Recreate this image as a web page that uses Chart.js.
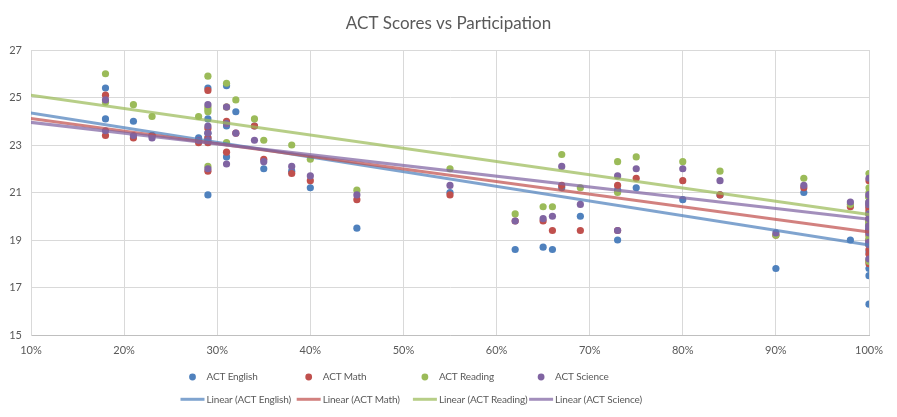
<!DOCTYPE html>
<html lang="en">
<head>
  <meta charset="UTF-8" />
  <title>ACT Scores vs Participation</title>
  <script src="https://cdn.jsdelivr.net/npm/chart.js"></script>
  <style>
    body {
      margin: 0;
      background: #ffffff;
    }
    #wrap {
      width: 897px;
      height: 417px;
    }
  </style>
</head>
<body>
  <div id="wrap"><canvas id="actChart" width="897" height="417"></canvas></div>

  <script>
    // 2017 ACT state averages (Maine at 8% sits left of the axis and is clipped)
    const states = [
      'Alabama', 'Alaska', 'Arizona', 'Arkansas', 'California', 'Colorado', 'Connecticut',
      'Delaware', 'District of Columbia', 'Florida', 'Georgia', 'Hawaii', 'Idaho', 'Illinois',
      'Indiana', 'Iowa', 'Kansas', 'Kentucky', 'Louisiana', 'Maine', 'Maryland', 'Massachusetts',
      'Michigan', 'Minnesota', 'Mississippi', 'Missouri', 'Montana', 'Nebraska', 'Nevada',
      'New Hampshire', 'New Jersey', 'New Mexico', 'New York', 'North Carolina', 'North Dakota',
      'Ohio', 'Oklahoma', 'Oregon', 'Pennsylvania', 'Rhode Island', 'South Carolina',
      'South Dakota', 'Tennessee', 'Texas', 'Utah', 'Vermont', 'Virginia', 'Washington',
      'West Virginia', 'Wisconsin', 'Wyoming'
    ];
    const participation = [
      1.00, 0.65, 0.62, 1.00, 0.31, 1.00, 0.31, 0.18, 0.32, 0.73, 0.55, 0.90, 0.38, 0.93,
      0.35, 0.67, 0.73, 1.00, 1.00, 0.08, 0.28, 0.29, 0.29, 1.00, 1.00, 1.00, 1.00, 0.84,
      1.00, 0.18, 0.34, 0.66, 0.31, 1.00, 0.98, 0.75, 1.00, 0.40, 0.23, 0.21, 1.00, 0.80,
      1.00, 0.45, 1.00, 0.29, 0.29, 0.29, 0.69, 1.00, 1.00
    ];
    const actEnglish = [
      18.9, 18.7, 18.6, 18.9, 22.5, 20.1, 25.5, 24.1, 24.4, 19.0, 21.0, 17.8, 21.9, 21.0,
      22.0, 21.2, 21.1, 19.6, 19.4, 24.2, 23.3, 25.4, 24.1, 20.4, 18.2, 19.8, 19.0, 20.9,
      16.3, 25.4, 23.8, 18.6, 23.8, 17.8, 19.0, 21.2, 18.5, 21.2, 23.4, 24.0, 17.5, 20.7,
      19.5, 19.5, 19.5, 23.3, 23.5, 20.9, 20.0, 19.7, 19.4
    ];
    const actMath = [
      18.4, 19.8, 19.8, 19.0, 22.7, 20.3, 24.6, 23.4, 23.5, 19.4, 20.9, 19.2, 21.8, 21.2,
      22.4, 21.3, 21.3, 19.4, 18.8, 24.0, 23.1, 25.3, 23.7, 21.5, 18.1, 19.9, 20.2, 20.9,
      18.0, 25.1, 23.8, 19.4, 24.0, 19.3, 20.4, 21.6, 18.8, 21.5, 23.4, 23.3, 18.6, 21.5,
      19.2, 20.7, 19.9, 23.1, 23.3, 21.9, 19.4, 20.4, 19.8
    ];
    const actReading = [
      19.7, 20.4, 20.1, 19.7, 23.1, 21.2, 25.6, 24.8, 24.9, 21.0, 22.0, 19.2, 23.0, 21.6,
      23.2, 22.6, 22.3, 20.5, 19.8, 24.8, 24.2, 25.9, 24.5, 21.8, 18.8, 20.8, 21.0, 21.9,
      18.1, 26.0, 24.1, 20.4, 24.6, 19.6, 20.5, 22.5, 20.1, 22.4, 24.2, 24.7, 19.1, 22.3,
      20.1, 21.1, 20.8, 24.4, 24.6, 22.1, 21.2, 20.6, 20.8
    ];
    const actScience = [
      19.4, 19.9, 19.8, 19.5, 22.2, 20.9, 24.6, 23.6, 23.5, 19.4, 21.3, 19.3, 22.1, 21.3,
      22.3, 22.1, 21.7, 20.1, 19.6, 23.7, 23.2, 24.7, 23.8, 21.6, 18.8, 20.5, 20.5, 21.5,
      18.2, 24.9, 23.2, 20.0, 23.9, 19.3, 20.6, 22.0, 19.6, 21.7, 23.3, 23.4, 18.9, 22.0,
      19.9, 20.9, 20.6, 23.2, 23.5, 22.0, 20.5, 20.9, 20.6
    ];
    const seriesNames = ['ACT English', 'ACT Math', 'ACT Reading', 'ACT Science'];
    const seriesValues = [actEnglish, actMath, actReading, actScience];
    const yTicks = [15, 17, 19, 21, 23, 25, 27];

    const colors = ['#4F81BD', '#C0504D', '#9BBB59', '#8064A2'];
    const trendColors = ['rgba(79,129,189,0.72)', 'rgba(192,80,77,0.72)', 'rgba(155,187,89,0.72)', 'rgba(128,100,162,0.72)'];
    const textColor = '#595959';
    const fontFamily = 'Lato, "Open Sans", sans-serif';

    // least squares line, drawn over the data's x range like the spreadsheet trendline
    function linearFit(xs, ys) {
      const n = xs.length;
      let sx = 0, sy = 0, sxx = 0, sxy = 0;
      for (let i = 0; i < n; i++) {
        sx += xs[i]; sy += ys[i];
        sxx += xs[i] * xs[i]; sxy += xs[i] * ys[i];
      }
      const m = (n * sxy - sx * sy) / (n * sxx - sx * sx);
      const b = (sy - m * sx) / n;
      const x0 = Math.min(...xs), x1 = Math.max(...xs);
      return [{ x: x0, y: m * x0 + b }, { x: x1, y: m * x1 + b }];
    }

    const pointSets = seriesNames.map((name, i) => ({
      label: name,
      type: 'scatter',
      data: participation.map((p, k) => ({ x: p, y: seriesValues[i][k], state: states[k] })),
      backgroundColor: colors[i],
      borderWidth: 0,
      pointRadius: 3.6,
      pointHoverRadius: 5,
      order: 7 - i
    }));

    const trendSets = seriesNames.map((name, i) => ({
      label: `Linear (${name})`,
      type: 'line',
      data: linearFit(participation, seriesValues[i]),
      borderColor: trendColors[i],
      backgroundColor: trendColors[i],
      borderWidth: 3,
      pointRadius: 0,
      showLine: true,
      fill: false,
      order: 3 - i
    }));

    // two-row legend laid out in fixed columns
    const gridLegend = {
      id: 'gridLegend',
      afterDraw(chart) {
        const ctx = chart.ctx;
        const left = 206.5, colW = 116.2, top = 377, rowH = 22.3;
        ctx.save();
        ctx.font = `10px ${fontFamily}`;
        ctx.letterSpacing = '-0.15px';
        ctx.fillStyle = textColor;
        ctx.textBaseline = 'middle';
        ctx.textAlign = 'left';
        chart.data.datasets.forEach((ds, i) => {
          const x = left + (i % 4) * colW;
          const y = top + Math.floor(i / 4) * rowH;
          if (ds.type === 'line') {
            ctx.strokeStyle = ds.borderColor;
            ctx.lineWidth = 3;
            ctx.beginPath();
            ctx.moveTo(x - 26, y);
            ctx.lineTo(x - 2, y);
            ctx.stroke();
          } else {
            ctx.beginPath();
            ctx.fillStyle = ds.backgroundColor;
            ctx.arc(x - 14, y, 3.4, 0, Math.PI * 2);
            ctx.fill();
          }
          ctx.fillStyle = textColor;
          ctx.fillText(ds.label, x, y);
        });
        ctx.restore();
      }
    };

    const ctx = document.getElementById('actChart').getContext('2d');
    const actChart = new Chart(ctx, {
      type: 'scatter',
      data: { datasets: [...pointSets, ...trendSets] },
      plugins: [gridLegend],
      options: {
        responsive: false,
        animation: false,
        layout: { padding: { left: 0, right: 0, top: 0, bottom: 52 } },
        plugins: {
          legend: { display: false },
          title: {
            display: true,
            text: 'ACT Scores vs Participation',
            color: textColor,
            font: { family: fontFamily, size: 17, weight: 'normal' },
            padding: { top: 13, bottom: 16.6 }
          },
          tooltip: {
            callbacks: {
              label: (c) => c.raw.state
                ? `${c.raw.state}: ${Math.round(c.parsed.x * 100)}%, ${c.parsed.y}`
                : `${c.dataset.label}: ${c.parsed.y.toFixed(2)}`
            }
          }
        },
        scales: {
          x: {
            type: 'linear',
            min: 0.1,
            max: 1,
            ticks: {
              stepSize: 0.1,
              callback: (v) => Math.round(v * 100) + '%',
              color: textColor,
              font: { family: fontFamily, size: 11 },
              padding: 9,
              maxRotation: 0
            },
            grid: { color: '#D9D9D9', drawTicks: false },
            border: { color: '#BFBFBF' },
            afterFit: (s) => { s.height = 30; s.paddingRight = 28; }
          },
          y: {
            min: yTicks[0],
            max: yTicks[yTicks.length - 1],
            afterBuildTicks: (s) => { s.ticks = yTicks.map(v => ({ value: v })); },
            ticks: {
              color: textColor,
              font: { family: fontFamily, size: 11 },
              padding: 9
            },
            grid: { color: '#D9D9D9', drawTicks: false },
            border: { color: '#D9D9D9' },
            afterFit: (s) => { s.width = 31; }
          }
        }
      }
    });
  </script>
</body>
</html>
